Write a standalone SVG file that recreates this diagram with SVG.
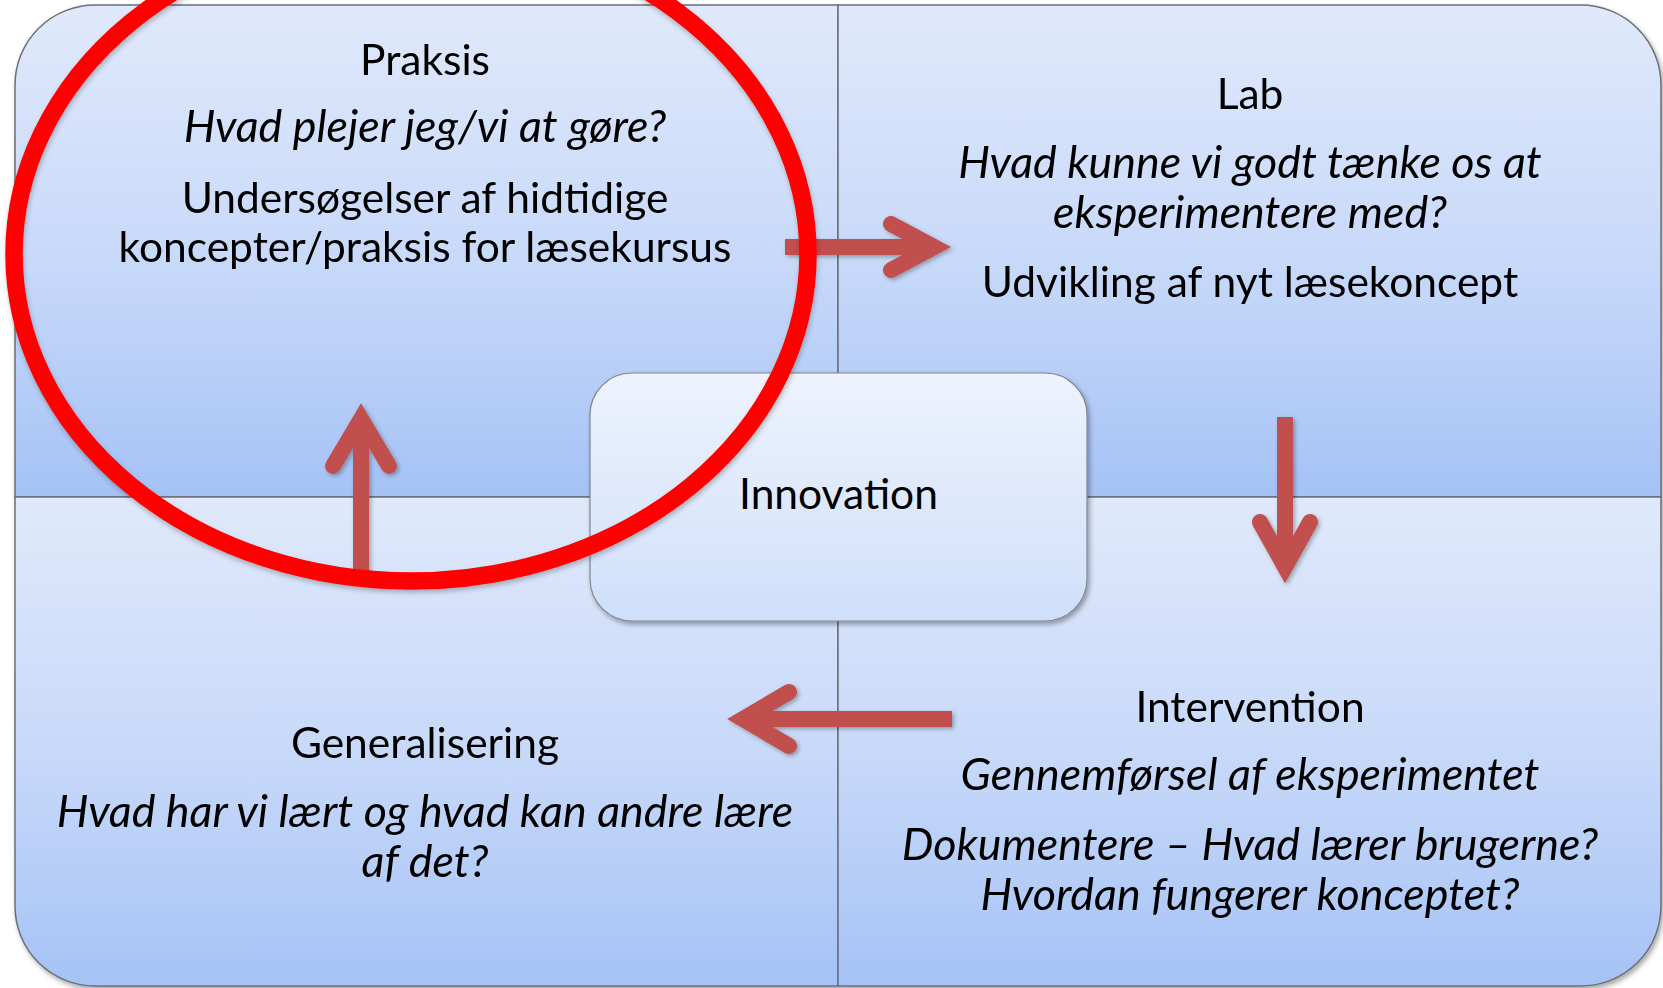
<svg xmlns="http://www.w3.org/2000/svg" width="1663" height="988" viewBox="0 0 1663 988">
<defs>
<linearGradient id="gq" x1="0" y1="0" x2="0" y2="1">
<stop offset="0" stop-color="#e0e9fb"/>
<stop offset="0.55" stop-color="#c6d8f9"/>
<stop offset="1" stop-color="#a5c2f6"/>
</linearGradient>
<linearGradient id="gc" x1="0" y1="0" x2="0" y2="1">
<stop offset="0" stop-color="#eef3fd"/>
<stop offset="1" stop-color="#cfdffa"/>
</linearGradient>
<filter id="sh" x="-10%" y="-10%" width="120%" height="120%">
<feDropShadow dx="2" dy="3" stdDeviation="2.5" flood-color="#000" flood-opacity="0.35"/>
</filter>
<filter id="ash" x="-20%" y="-20%" width="140%" height="140%">
<feDropShadow dx="2" dy="2" stdDeviation="2" flood-color="#000" flood-opacity="0.3"/>
</filter>
<filter id="rsh" x="-10%" y="-10%" width="120%" height="120%">
<feDropShadow dx="1" dy="3" stdDeviation="2.5" flood-color="#000" flood-opacity="0.25"/>
</filter>
</defs>
<style>
.q{fill:url(#gq);stroke:#6b6f78;stroke-width:1.5}
.c{fill:url(#gc);stroke:#7f8590;stroke-width:1.2}
.t{font-family:Lato,"Open Sans",sans-serif;font-size:42.5px;fill:#000;text-anchor:middle}
.i{font-style:italic;font-size:44.8px}
.shaft{stroke:#c0504d;stroke-width:16;fill:none;stroke-linecap:butt}
.head{stroke:#c0504d;stroke-width:16;fill:none;stroke-linecap:round;stroke-linejoin:miter;stroke-miterlimit:10}
.ring{fill:none;stroke:#ff0000;stroke-width:17.5}
</style>
<rect width="1663" height="988" fill="#ffffff"/>
<g id="quadrants" filter="url(#sh)">
<g id="praksis">
<path class="q" d="M15,497 V85 A80,80 0 0 1 95,5 H838 V497 Z"/>
<text class="t" x="425" y="75">Praksis</text>
<text class="t i" x="425" y="142">Hvad plejer jeg/vi at gøre?</text>
<text class="t" x="425" y="213">Undersøgelser af hidtidige</text>
<text class="t" x="425" y="262">koncepter/praksis for læsekursus</text>
</g>
<g id="lab">
<path class="q" d="M838,5 H1581 A80,80 0 0 1 1661,85 V497 H838 Z"/>
<text class="t" x="1250" y="109">Lab</text>
<text class="t i" x="1250" y="178">Hvad kunne vi godt tænke os at</text>
<text class="t i" x="1250" y="228">eksperimentere med?</text>
<text class="t" x="1250" y="297">Udvikling af nyt læsekoncept</text>
</g>
<g id="generalisering">
<path class="q" d="M15,497 H838 V986 H95 A80,80 0 0 1 15,906 Z"/>
<text class="t" x="425" y="758">Generalisering</text>
<text class="t i" x="425" y="827">Hvad har vi lært og hvad kan andre lære</text>
<text class="t i" x="425" y="877">af det?</text>
</g>
<g id="intervention">
<path class="q" d="M838,497 H1661 V906 A80,80 0 0 1 1581,986 H838 Z"/>
<text class="t" x="1250" y="722">Intervention</text>
<text class="t i" x="1250" y="790">Gennemførsel af eksperimentet</text>
<text class="t i" x="1250" y="860">Dokumentere – Hvad lærer brugerne?</text>
<text class="t i" x="1250" y="910">Hvordan fungerer konceptet?</text>
</g>
</g>
<g id="connectors" filter="url(#ash)">
<path class="shaft" d="M785,247 H934"/>
<path class="head" d="M891,224 L934,247 L891,270"/>
<path class="shaft" d="M1285,417 V567"/>
<path class="head" d="M1260,522 L1285,567 L1310,522"/>
<path class="shaft" d="M952,719 H743"/>
<path class="head" d="M789,692 L743,719 L789,746"/>
<path class="shaft" d="M361,575 V419"/>
<path class="head" d="M333,466 L361,419 L389,466"/>
</g>
<g id="innovation">
<rect class="c" x="590" y="373" width="497" height="248" rx="42" ry="42" filter="url(#sh)"/>
<text class="t" x="838.5" y="509">Innovation</text>
</g>
<g id="highlight">
<ellipse class="ring" cx="411" cy="254" rx="397" ry="327" filter="url(#rsh)"/>
</g>
</svg>
